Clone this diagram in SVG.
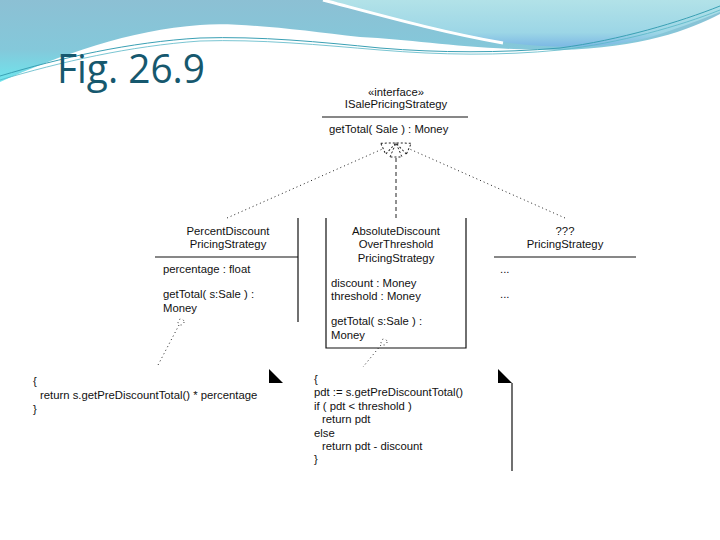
<svg xmlns="http://www.w3.org/2000/svg" width="720" height="540" viewBox="0 0 720 540">
<defs>
<linearGradient id="gMain" x1="0" y1="0" x2="0" y2="1">
<stop offset="0" stop-color="#8cc0d4"/>
<stop offset="0.6" stop-color="#84c8da"/>
<stop offset="1" stop-color="#6ee6ee"/>
</linearGradient>
<linearGradient id="gLight" x1="0" y1="0" x2="0" y2="1">
<stop offset="0" stop-color="#b2e2e8"/>
<stop offset="0.7" stop-color="#9cd6e6"/>
<stop offset="1" stop-color="#7cb8e4"/>
</linearGradient>
<marker id="real" viewBox="0 0 16 14" refX="15" refY="7" markerWidth="16" markerHeight="14" markerUnits="userSpaceOnUse" orient="auto">
<path d="M1,1 L15,7 L1,13 Z" fill="#fff" stroke="#222" stroke-width="1" stroke-dasharray="2 2"/>
</marker>
<style>
.t{font-family:"Liberation Sans",Arial,sans-serif;font-size:11.3px;fill:#111}
.c{text-anchor:middle}
.ln{stroke:#111;stroke-width:1.2;fill:none}
.box{fill:#fff}
.dot{stroke:#222;stroke-width:1;stroke-dasharray:1 3;fill:none}
.dash{stroke:#222;stroke-width:1;stroke-dasharray:4 3;fill:none}
</style>
</defs>
<rect width="720" height="540" fill="#fff"/>
<g id="header">
<path d="M0,0 H720 V14 C690,30 640,48 560,50 C470,50 420,40 360,37 C300,30 240,22 200,25 C130,30 60,55 0,82 Z" fill="url(#gMain)"/>
<path d="M323,0 C380,15 440,32 503,42 C560,50 620,48 660,34 C690,24 705,18 720,12 V0 Z" fill="url(#gLight)"/>
<path d="M323,0 C380,15 440,32 503,43" stroke="#fff" stroke-width="3" fill="none"/>
<path d="M0,76 C60,58 130,42 200,38 C260,36 320,42 380,48 C440,53 500,53 560,48 C620,40 680,22 720,6" stroke="#3aa0b4" stroke-width="1" fill="none"/>
<path d="M0,80 C60,62 130,46 200,41 C260,39 320,45 380,50 C440,55 500,56 560,50 C620,43 680,26 720,10" stroke="#58b6c6" stroke-width="0.8" fill="none"/>
<text x="57" y="83" font-family="'Open Sans','Noto Sans',sans-serif" font-size="40" fill="#16586e" textLength="148" lengthAdjust="spacingAndGlyphs">Fig. 26.9</text>
</g>
<g id="ISalePricingStrategy">
<rect class="box" x="322" y="82" width="146" height="62"/>
<line class="ln" x1="322" y1="117" x2="468" y2="117"/>
<text class="t c" x="396" y="96">«interface»</text>
<text class="t c" x="396" y="108">ISalePricingStrategy</text>
<text class="t" x="329" y="133">getTotal( Sale ) : Money</text>
</g>
<g id="PercentDiscountPricingStrategy">
<rect class="box" x="155" y="218" width="143" height="104"/>
<line class="ln" x1="298" y1="218" x2="298" y2="322"/>
<line class="ln" x1="155" y1="257" x2="298" y2="257"/>
<text class="t c" x="228" y="235">PercentDiscount</text>
<text class="t c" x="228" y="248">PricingStrategy</text>
<text class="t" x="163" y="273">percentage : float</text>
<text class="t" x="163" y="298">getTotal( s:Sale ) :</text>
<text class="t" x="163" y="312">Money</text>
<circle class="dot" cx="181" cy="322" r="3"/>
</g>
<g id="AbsoluteDiscountOverThresholdPricingStrategy">
<rect class="box" x="326" y="218" width="140" height="130"/>
<path class="ln" d="M326,218 V348 H466 V218"/>
<text class="t c" x="396" y="235">AbsoluteDiscount</text>
<text class="t c" x="396" y="248">OverThreshold</text>
<text class="t c" x="396" y="262">PricingStrategy</text>
<text class="t" x="331" y="287">discount : Money</text>
<text class="t" x="331" y="300">threshold : Money</text>
<text class="t" x="331" y="325">getTotal( s:Sale ) :</text>
<text class="t" x="331" y="339">Money</text>
<circle class="dot" cx="384" cy="342" r="3"/>
</g>
<g id="UnknownPricingStrategy">
<rect class="box" x="493" y="218" width="143" height="88"/>
<line class="ln" x1="494" y1="257" x2="636" y2="257"/>
<text class="t c" x="565" y="235">???</text>
<text class="t c" x="565" y="248">PricingStrategy</text>
<text class="t" x="500" y="273">...</text>
<text class="t" x="500" y="298">...</text>
</g>
<g id="note1">
<rect class="box" x="28" y="369" width="255" height="52"/>
<path d="M269,369 L269,383 L283,383 Z" fill="#000"/>
<text class="t" x="33" y="385">{</text>
<text class="t" x="40" y="399">return s.getPreDiscountTotal() * percentage</text>
<text class="t" x="33" y="413">}</text>
</g>
<g id="note2">
<rect class="box" x="311" y="369" width="201" height="102"/>
<path d="M498,369 L498,383 L512,383 Z" fill="#000"/>
<line class="ln" x1="512" y1="383" x2="512" y2="471"/>
<text class="t" x="314" y="383">{</text>
<text class="t" x="314" y="396">pdt := s.getPreDiscountTotal()</text>
<text class="t" x="314" y="410">if ( pdt &lt; threshold )</text>
<text class="t" x="322" y="423">return pdt</text>
<text class="t" x="314" y="437">else</text>
<text class="t" x="322" y="450">return pdt - discount</text>
<text class="t" x="314" y="463">}</text>
</g>
<g id="connectors">
<line class="dot" x1="227" y1="218" x2="396" y2="143" marker-end="url(#real)"/>
<line class="dot" x1="565" y1="218" x2="396" y2="143" marker-end="url(#real)"/>
<line class="dash" x1="396" y1="218" x2="396" y2="143" marker-end="url(#real)"/>
<line class="dot" x1="179" y1="325" x2="157" y2="367"/>
<line class="dot" x1="381" y1="345" x2="363" y2="367"/>
</g>
</svg>
